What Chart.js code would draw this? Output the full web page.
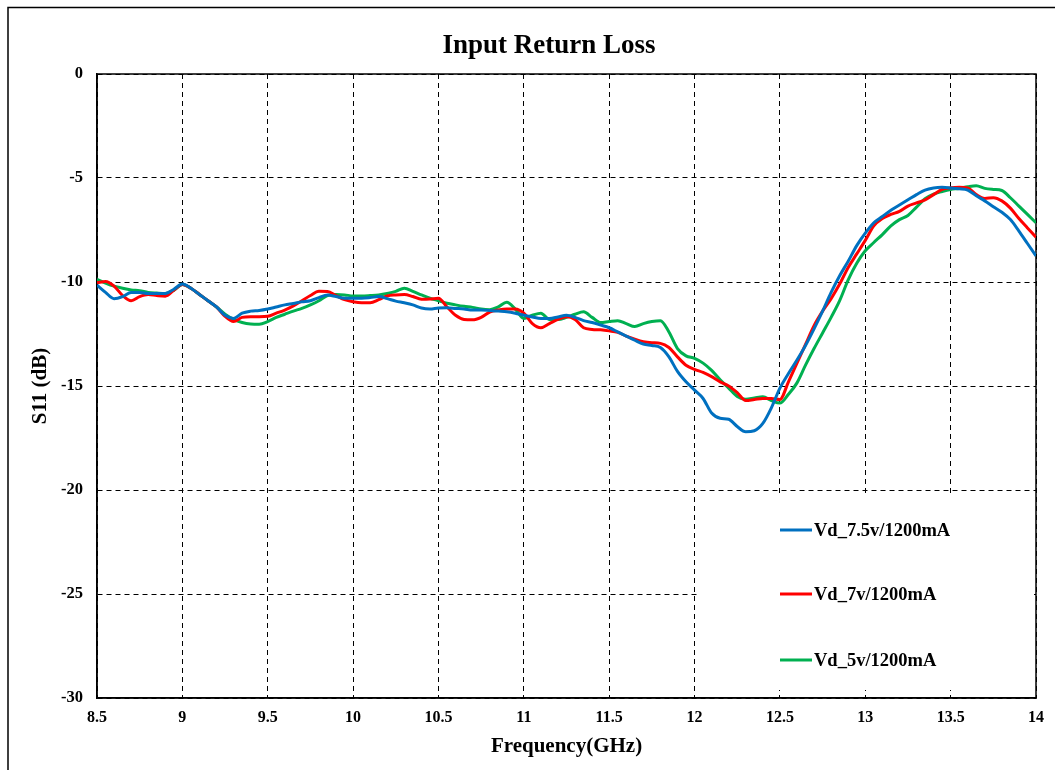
<!DOCTYPE html>
<html><head><meta charset="utf-8">
<script src="https://cdn.jsdelivr.net/npm/chart.js@4.4.0/dist/chart.umd.min.js"></script>
<style>html,body{margin:0;padding:0;background:#fff}#wrap{width:1055px;height:770px;position:relative}</style>
</head><body><div id="wrap"><canvas id="c" width="1055" height="770"></canvas></div>
<script>
const chartTitle = "Input Return Loss";
const xTitle = "Frequency(GHz)";
const yTitle = "S11 (dB)";
const seriesLabels = ["Vd_7.5v/1200mA", "Vd_7v/1200mA", "Vd_5v/1200mA"];
const seriesColors = ["#0070C0", "#FF0000", "#00B050"];

const freqs = [8.50,8.55,8.60,8.65,8.70,8.75,8.80,8.85,8.90,8.95,
  9.00,9.05,9.10,9.15,9.20,9.25,9.30,9.35,9.40,9.45,
  9.50,9.55,9.60,9.65,9.70,9.75,9.80,9.85,9.90,9.95,
  10.00,10.05,10.10,10.15,10.20,10.25,10.30,10.35,10.40,10.45,
  10.50,10.55,10.60,10.65,10.70,10.75,10.80,10.85,10.90,10.95,
  11.00,11.05,11.10,11.15,11.20,11.25,11.30,11.35,11.40,11.45,
  11.50,11.55,11.60,11.65,11.70,11.75,11.80,11.85,11.90,11.95,
  12.00,12.05,12.10,12.15,12.20,12.25,12.30,12.35,12.40,12.45,
  12.50,12.55,12.60,12.65,12.70,12.75,12.80,12.85,12.90,12.95,
  13.00,13.05,13.10,13.15,13.20,13.25,13.30,13.35,13.40,13.45,
  13.50,13.55,13.60,13.65,13.70,13.75,13.80,13.85,13.90,13.95,14.00];

const s11_7_5v = [-10.15,-10.5,-10.8,-10.7,-10.5,-10.5,-10.55,-10.55,-10.55,-10.35,
  -10.1,-10.3,-10.6,-10.9,-11.2,-11.6,-11.75,-11.5,-11.4,-11.37,
  -11.3,-11.2,-11.1,-11.03,-10.95,-10.9,-10.75,-10.63,-10.7,-10.78,
  -10.78,-10.78,-10.75,-10.7,-10.8,-10.92,-11.0,-11.1,-11.25,-11.3,
  -11.25,-11.24,-11.27,-11.3,-11.35,-11.35,-11.37,-11.4,-11.43,-11.5,
  -11.6,-11.68,-11.75,-11.75,-11.68,-11.6,-11.7,-11.86,-11.95,-12.07,
  -12.2,-12.4,-12.6,-12.8,-12.98,-13.05,-13.15,-13.6,-14.3,-14.8,
  -15.2,-15.6,-16.3,-16.55,-16.6,-16.95,-17.2,-17.15,-16.8,-16.05,
  -15.1,-14.4,-13.75,-13.05,-12.25,-11.4,-10.5,-9.7,-9.0,-8.25,
  -7.65,-7.15,-6.85,-6.55,-6.3,-6.05,-5.8,-5.58,-5.48,-5.45,
  -5.48,-5.52,-5.58,-5.85,-6.1,-6.38,-6.65,-7.0,-7.55,-8.15,-8.75];

const s11_7v = [-10.03,-9.98,-10.2,-10.65,-10.9,-10.7,-10.6,-10.65,-10.68,-10.4,
  -10.12,-10.3,-10.6,-10.9,-11.2,-11.65,-11.9,-11.7,-11.67,-11.67,
  -11.65,-11.5,-11.35,-11.15,-10.9,-10.65,-10.45,-10.46,-10.65,-10.85,
  -10.95,-11.0,-11.0,-10.85,-10.67,-10.62,-10.6,-10.7,-10.83,-10.82,
  -10.78,-11.2,-11.6,-11.8,-11.82,-11.7,-11.45,-11.35,-11.3,-11.3,
  -11.5,-12.0,-12.2,-12.0,-11.8,-11.67,-11.8,-12.2,-12.28,-12.3,
  -12.35,-12.42,-12.6,-12.75,-12.87,-12.92,-12.95,-13.15,-13.6,-14.0,
  -14.2,-14.35,-14.55,-14.8,-15.0,-15.32,-15.7,-15.65,-15.6,-15.6,
  -15.65,-14.8,-13.9,-13.0,-12.1,-11.4,-10.8,-10.1,-9.3,-8.65,
  -8.0,-7.3,-6.95,-6.75,-6.6,-6.35,-6.2,-6.05,-5.8,-5.55,
  -5.47,-5.45,-5.48,-5.8,-5.98,-5.95,-6.1,-6.45,-6.95,-7.4,-7.85];

const s11_5v = [-9.87,-10.05,-10.2,-10.3,-10.38,-10.42,-10.5,-10.53,-10.55,-10.4,
  -10.12,-10.3,-10.6,-10.9,-11.2,-11.55,-11.8,-11.95,-12.02,-12.03,
  -11.9,-11.7,-11.55,-11.4,-11.27,-11.1,-10.9,-10.65,-10.6,-10.62,
  -10.67,-10.67,-10.65,-10.62,-10.55,-10.45,-10.3,-10.45,-10.62,-10.78,
  -10.9,-11.02,-11.1,-11.17,-11.22,-11.3,-11.33,-11.2,-10.97,-11.3,
  -11.75,-11.6,-11.5,-11.8,-11.8,-11.7,-11.55,-11.43,-11.7,-11.95,
  -11.9,-11.86,-12.0,-12.14,-12.0,-11.9,-11.86,-12.4,-13.2,-13.55,
  -13.67,-13.9,-14.25,-14.7,-15.1,-15.5,-15.64,-15.58,-15.52,-15.7,
  -15.82,-15.4,-14.85,-14.0,-13.2,-12.45,-11.7,-10.9,-9.9,-9.1,
  -8.5,-8.1,-7.72,-7.3,-7.0,-6.8,-6.4,-6.0,-5.78,-5.65,
  -5.55,-5.5,-5.42,-5.37,-5.5,-5.55,-5.6,-5.95,-6.35,-6.75,-7.15];

const seriesValues = [s11_7_5v, s11_7v, s11_5v];
const xTickStep = 0.5, xMin = 8.5, xMax = 14;
const yTickStep = 5, yMin = -30, yMax = 0;

const FONT = '"Liberation Serif", "Times New Roman", serif';

const frameAndTitle = {
  id: 'frameAndTitle',
  beforeDatasetsDraw(chart) {
    const ctx = chart.ctx;
    ctx.save();
    ctx.fillStyle = '#fff';
    ctx.fillRect(697, 494, 337, 196);
    ctx.restore();
  },
  afterDraw(chart) {
    const ctx = chart.ctx;
    ctx.save();
    ctx.strokeStyle = '#000';
    ctx.lineWidth = 1.5;
    ctx.beginPath();
    ctx.moveTo(8, 775);
    ctx.lineTo(8, 7.5);
    ctx.lineTo(1060, 7.5);
    ctx.stroke();
    ctx.fillStyle = '#000';
    ctx.font = 'bold 27px ' + FONT;
    ctx.textAlign = 'center';
    ctx.textBaseline = 'middle';
    ctx.fillText(chartTitle, 549, 46);
    const ys = [530, 594, 660];
    ctx.font = 'bold 18.5px ' + FONT;
    ctx.textAlign = 'left';
    chart.data.datasets.forEach((ds, i) => {
      ctx.strokeStyle = ds.borderColor;
      ctx.lineWidth = 3;
      ctx.beginPath();
      ctx.moveTo(780, ys[i]);
      ctx.lineTo(812, ys[i]);
      ctx.stroke();
      ctx.fillStyle = '#000';
      ctx.fillText(ds.label, 814, ys[i] + 1);
    });
    ctx.restore();
  }
};

new Chart(document.getElementById('c'), {
  type: 'line',
  data: {
    datasets: seriesLabels.map((lab, i) => ({
      label: lab,
      data: freqs.map((f, j) => ({ x: f, y: seriesValues[i][j] })),
      borderColor: seriesColors[i],
      backgroundColor: seriesColors[i],
      borderWidth: 3,
      pointRadius: 0,
      tension: 0.4,
      cubicInterpolationMode: 'monotone',
      fill: false
    }))
  },
  options: {
    responsive: false,
    animation: false,
    devicePixelRatio: 1,
    layout: { padding: { left: 0, top: 74, right: 19, bottom: 0 } },
    plugins: { legend: { display: false }, title: { display: false }, tooltip: { enabled: false } },
    scales: {
      x: {
        type: 'linear', min: xMin, max: xMax,
        afterFit(s) { s.height = 72; },
        ticks: { stepSize: xTickStep, padding: 10, color: '#000', font: { family: FONT, size: 16, weight: 'bold' },
          callback: v => String(v) },
        grid: { color: '#000', lineWidth: 1, drawTicks: false },
        border: { display: true, color: '#000', width: 1.5, dash: [5, 4] },
        title: { display: true, text: xTitle, color: '#000', font: { family: FONT, size: 21, weight: 'bold' }, padding: { top: 0, bottom: 11 } }
      },
      y: {
        type: 'linear', min: yMin, max: yMax,
        afterFit(s) { s.width = 97; },
        ticks: { stepSize: yTickStep, padding: 14, color: '#000', font: { family: FONT, size: 16.5, weight: 'bold' } },
        grid: { color: '#000', lineWidth: 1, drawTicks: false },
        border: { display: true, color: '#000', width: 1.5, dash: [5, 4] },
        title: { display: true, text: yTitle, color: '#000', font: { family: FONT, size: 21, weight: 'bold' }, padding: { top: 28, bottom: 0 } }
      }
    }
  },
  plugins: [frameAndTitle, {
    id: 'plotBorder',
    beforeDatasetsDraw(chart) {
      const a = chart.chartArea, ctx = chart.ctx;
      ctx.save();
      ctx.strokeStyle = '#000';
      ctx.lineWidth = 1.5;
      ctx.strokeRect(a.left, a.top, a.right - a.left, a.bottom - a.top);
      ctx.restore();
    }
  }]
});
</script>
</body></html>
